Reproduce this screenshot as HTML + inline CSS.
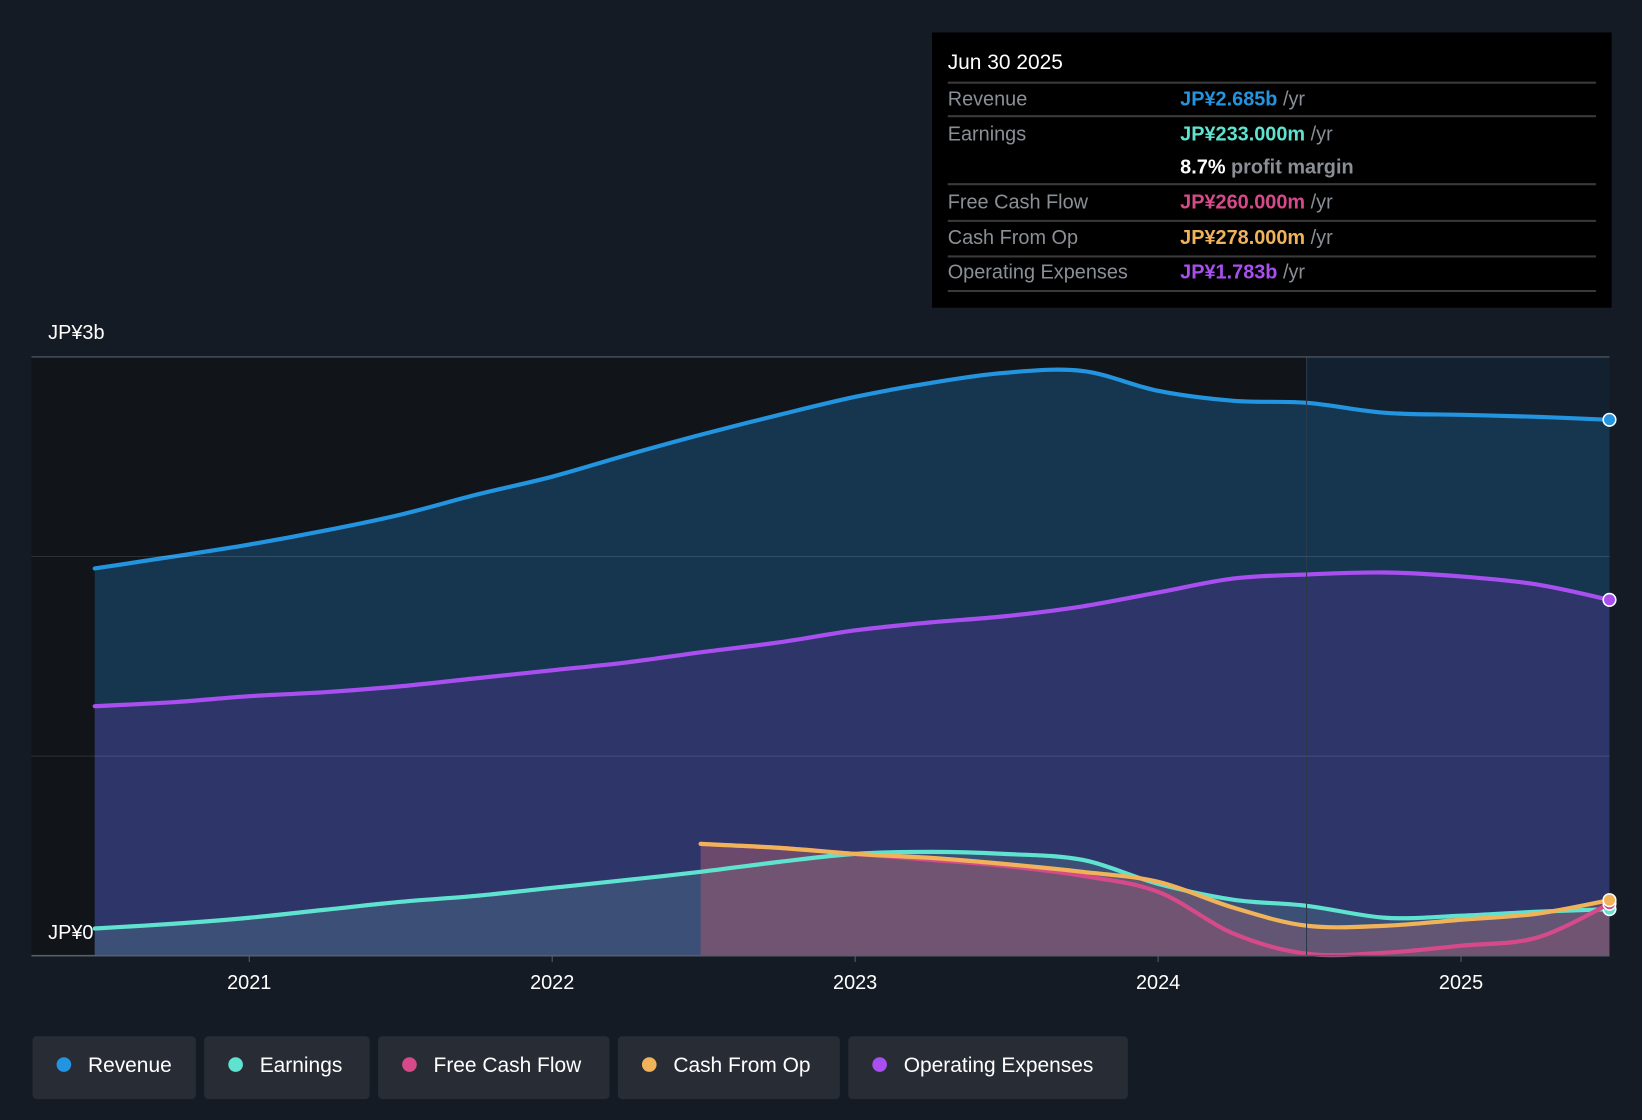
<!DOCTYPE html>
<html><head><meta charset="utf-8"><style>
html,body{margin:0;padding:0;background:#151b24;}
svg{display:block;font-family:"Liberation Sans",sans-serif;}
</style></head><body>
<svg id="chart" width="1642" height="1120" viewBox="0 0 1568 1070" preserveAspectRatio="none" xmlns="http://www.w3.org/2000/svg">
<rect x="0" y="0" width="1568" height="1070" fill="#151b24"/>
<rect id="pastBg" fill="#111419"/>
<rect id="futBg" fill="#132030"/>
<g id="marks"></g>
<g id="axis"></g>
<g>
<rect x="890" y="31" width="649" height="263" fill="#000"/>
<text x="905" y="66" fill="#fff" font-size="20">Jun 30 2025</text>
<g stroke="#3a3a3a" stroke-width="2">
<line x1="905" y1="79" x2="1524" y2="79"/><line x1="905" y1="111" x2="1524" y2="111"/>
<line x1="905" y1="176" x2="1524" y2="176"/><line x1="905" y1="211" x2="1524" y2="211"/>
<line x1="905" y1="245" x2="1524" y2="245"/><line x1="905" y1="278" x2="1524" y2="278"/>
</g>
<g font-size="19" fill="#8a8f96">
<text x="905" y="101">Revenue</text><text x="905" y="134">Earnings</text>
<text x="905" y="199">Free Cash Flow</text><text x="905" y="233">Cash From Op</text>
<text x="905" y="266">Operating Expenses</text>
</g>
<g font-size="19" font-weight="bold">
<text x="1127" y="101" fill="#2394df">JP¥2.685b <tspan fill="#8a8f96" font-weight="normal">/yr</tspan></text>
<text x="1127" y="134" fill="#5fe3d0">JP¥233.000m <tspan fill="#8a8f96" font-weight="normal">/yr</tspan></text>
<text x="1127" y="166" fill="#fff">8.7% <tspan fill="#8a8f96">profit margin</tspan></text>
<text x="1127" y="199" fill="#d64a8a">JP¥260.000m <tspan fill="#8a8f96" font-weight="normal">/yr</tspan></text>
<text x="1127" y="233" fill="#f0b35a">JP¥278.000m <tspan fill="#8a8f96" font-weight="normal">/yr</tspan></text>
<text x="1127" y="266" fill="#a94ff0">JP¥1.783b <tspan fill="#8a8f96" font-weight="normal">/yr</tspan></text>
</g>
</g>
<g id="legend" font-size="20" fill="#fff">
<g><rect x="31" y="990" width="156" height="60" rx="4" fill="#272c35"/><circle cx="61" cy="1017" r="7" fill="#2394df"/><text x="84" y="1024">Revenue</text></g>
<g><rect x="195" y="990" width="158" height="60" rx="4" fill="#272c35"/><circle cx="225" cy="1017" r="7" fill="#5fe3d0"/><text x="248" y="1024">Earnings</text></g>
<g><rect x="361" y="990" width="221" height="60" rx="4" fill="#272c35"/><circle cx="391" cy="1017" r="7" fill="#d64a8a"/><text x="414" y="1024">Free Cash Flow</text></g>
<g><rect x="590" y="990" width="212" height="60" rx="4" fill="#272c35"/><circle cx="620" cy="1017" r="7" fill="#f0b35a"/><text x="643" y="1024">Cash From Op</text></g>
<g><rect x="810" y="990" width="267" height="60" rx="4" fill="#272c35"/><circle cx="840" cy="1017" r="7" fill="#a94ff0"/><text x="863" y="1024">Operating Expenses</text></g>
</g>
</svg>
<script>
const times = [2020.49,2020.75,2021,2021.25,2021.5,2021.75,2022,2022.25,2022.49,2022.75,2023,2023.25,2023.49,2023.75,2024,2024.25,2024.49,2024.75,2025,2025.25,2025.49];
const revenue = [1.94,2.00,2.06,2.13,2.21,2.31,2.40,2.51,2.61,2.71,2.80,2.87,2.92,2.93,2.83,2.78,2.77,2.72,2.71,2.70,2.685];
const opex = [1.25,1.27,1.30,1.32,1.35,1.39,1.43,1.47,1.52,1.57,1.63,1.67,1.70,1.75,1.82,1.89,1.91,1.92,1.90,1.86,1.783];
const earnings = [0.136,0.16,0.19,0.23,0.27,0.30,0.34,0.38,0.42,0.47,0.51,0.52,0.51,0.48,0.36,0.28,0.25,0.19,0.20,0.22,0.233];
const cfTimes = [2022.49,2022.75,2023,2023.25,2023.49,2023.75,2024,2024.25,2024.49,2024.75,2025,2025.25,2025.49];
const cfo = [0.56,0.54,0.51,0.49,0.46,0.42,0.37,0.24,0.15,0.15,0.18,0.21,0.278];
const fcf = [0.56,0.54,0.51,0.48,0.45,0.40,0.32,0.11,0.01,0.015,0.05,0.09,0.26];
const yearTicks = [2021,2022,2023,2024,2025];
const yTicks = [0,1,2,3];
const yLabels = ["JP¥0","","","JP¥3b"];
const pastEnd = 2024.49;

const X0=30,X1=1537,Y0=913,Y3=341;
const xS=t=>238+(t-2021)*289.3;
const yS=v=>Y0-(v/3)*(Y0-Y3);
const NS="http://www.w3.org/2000/svg";
function mk(tag,attrs,parent){const e=document.createElementNS(NS,tag);for(const k in attrs)e.setAttribute(k,attrs[k]);parent.appendChild(e);return e;}
function path(ts,vs){
  const p=ts.map((t,i)=>[xS(t),yS(vs[i])]);
  let d="M"+p[0][0]+","+p[0][1];
  for(let i=0;i<p.length-1;i++){
    const a=p[Math.max(0,i-1)],b=p[i],c=p[i+1],e=p[Math.min(p.length-1,i+2)];
    const c1=[b[0]+(c[0]-a[0])/6,b[1]+(c[1]-a[1])/6],c2=[c[0]-(e[0]-b[0])/6,c[1]-(e[1]-b[1])/6];
    d+=" C"+c1[0]+","+c1[1]+" "+c2[0]+","+c2[1]+" "+c[0]+","+c[1];
  }
  return d;
}
const pb=document.getElementById('pastBg');
pb.setAttribute('x',X0);pb.setAttribute('y',Y3);pb.setAttribute('width',xS(pastEnd)-X0);pb.setAttribute('height',Y0-Y3);
const fb=document.getElementById('futBg');
fb.setAttribute('x',xS(pastEnd));fb.setAttribute('y',Y3);fb.setAttribute('width',X1-xS(pastEnd));fb.setAttribute('height',Y0-Y3);

const marks=document.getElementById('marks');
const series=[
 {name:'revenue',ts:times,vs:revenue,c:'#2394df',f:'#163650',fo:1},
 {name:'operating-expenses',ts:times,vs:opex,c:'#a94ff0',f:'#373473',fo:0.7},
 {name:'earnings',ts:times,vs:earnings,c:'#5fe3d0',f:'#4a6a86',fo:0.5},
 {name:'free-cash-flow',ts:cfTimes,vs:fcf,c:'#d64a8a',f:'#8a4a6a',fo:0.3},
 {name:'cash-from-op',ts:cfTimes,vs:cfo,c:'#f0b35a',f:'#a06070',fo:0.4}
];
series.forEach(s=>{
  const d=path(s.ts,s.vs);
  const xa=xS(s.ts[0]),xb=xS(s.ts[s.ts.length-1]);
  const a=mk('path',{d:d+" L"+xb+","+Y0+" L"+xa+","+Y0+" Z",fill:s.f,'fill-opacity':s.fo},marks);
  
  
});
series.forEach(s=>{
  const d=path(s.ts,s.vs);
  const l=mk('path',{d:d,fill:'none',stroke:s.c,'stroke-width':4,'stroke-linecap':'round'},marks);
  
  
  const n=s.ts.length-1;
  const dot=mk('circle',{cx:xS(s.ts[n]),cy:yS(s.vs[n]),r:6,fill:s.c,stroke:'#fff','stroke-width':1.5},marks);
  
  
});
const ax=document.getElementById('axis');
mk('line',{x1:xS(pastEnd),x2:xS(pastEnd),y1:Y3,y2:Y0,stroke:'#2a3a4a','stroke-width':1},ax);
yTicks.forEach((v,i)=>{
  const g=mk('line',{x1:X0,x2:X1,y1:yS(v),y2:yS(v),stroke:i==3?'#55606c':'#ffffff','stroke-opacity':i==3?1:0.12,'stroke-width':1},ax);
  
  
  if(yLabels[i]){
    const t=mk('text',{x:46,y:i==0?yS(v)-16:yS(v)-17,fill:'#fff','font-size':19},ax);
    t.textContent=yLabels[i];
    
    
  }
});
mk('line',{x1:X0,x2:X1,y1:Y0,y2:Y0,stroke:'#55606c','stroke-width':1.5},ax);
yearTicks.forEach(y=>{
  mk('line',{x1:xS(y),x2:xS(y),y1:Y0,y2:Y0+6,stroke:'#55606c'},ax);
  const t=mk('text',{x:xS(y),y:945,fill:'#fff','font-size':19,'text-anchor':'middle'},ax);
  t.textContent=y;
  
  
});
</script>
</body></html>
